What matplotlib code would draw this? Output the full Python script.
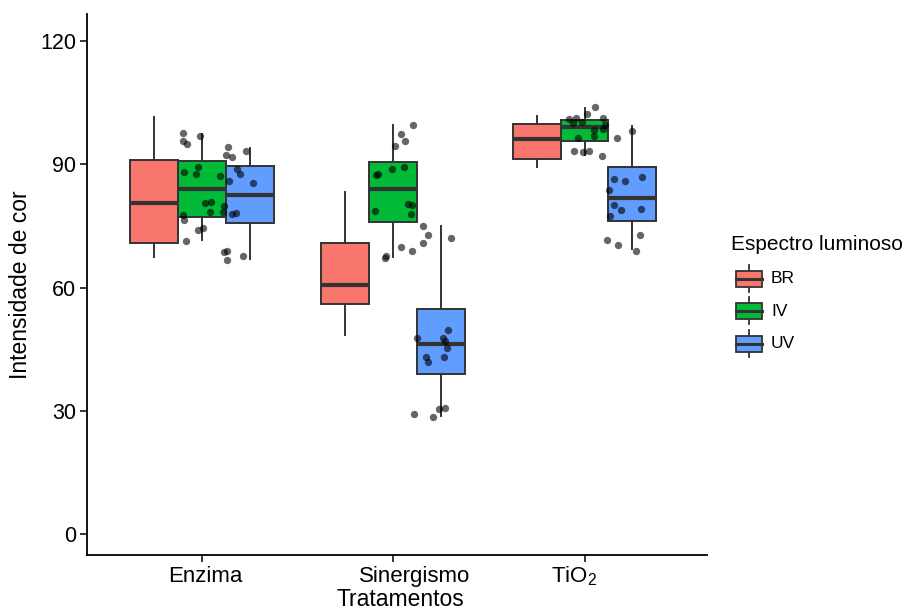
import matplotlib
matplotlib.use("Agg")
import matplotlib.pyplot as plt
import matplotlib.transforms as mtransforms
from matplotlib.patches import Rectangle
import numpy as np

plt.rcParams['font.family'] = ['Liberation Sans', 'DejaVu Sans']
plt.rcParams['mathtext.fontset'] = 'custom'
plt.rcParams['mathtext.rm'] = 'Liberation Sans'
plt.rcParams['mathtext.it'] = 'Liberation Sans:italic'

# ---------------- data ----------------
groups = ['Enzima', 'Sinergismo', 'TiO$_{2}$']
spectra = ['BR', 'IV', 'UV']
colors = ['#F8766D', '#00BA38', '#619CFF']

# box statistics per group, order BR, IV, UV
whislo = {'Enzima': [67.4, 71.6, 66.9], 'Sinergismo': [48.4, 67.5, 28.7], 'TiO2': [89.3, 92.3, 69.3]}
q1     = {'Enzima': [70.8, 77.3, 75.7], 'Sinergismo': [56.0, 75.9, 38.9], 'TiO2': [91.2, 95.6, 76.3]}
med    = {'Enzima': [80.6, 84.0, 82.5], 'Sinergismo': [60.6, 83.9, 46.3], 'TiO2': [96.2, 99.1, 81.9]}
q3     = {'Enzima': [91.0, 90.8, 89.6], 'Sinergismo': [70.8, 90.6, 54.9], 'TiO2': [99.8, 100.9, 89.3]}
whishi = {'Enzima': [101.5, 97.3, 94.0], 'Sinergismo': [83.3, 99.6, 75.0], 'TiO2': [101.8, 103.6, 99.3]}

# jittered observations: values and horizontal jitter (x-units from group centre)
enz_val = [97.6, 97.0, 95.7, 95.0, 94.3, 93.3, 92.2, 91.9, 89.3, 88.2, 87.7, 87.2, 88.9, 87.6, 86.0, 85.4,
           80.5, 80.9, 78.3, 79.8, 78.4, 78.0, 78.1, 77.7, 76.4, 74.1, 74.5, 71.4, 68.6, 69.0, 66.7, 67.8]
enz_jit = [-0.098, -0.010, -0.099, -0.075, 0.137, 0.233, 0.127, 0.157, -0.021, -0.094, -0.033, 0.096, 0.183,
           0.197, 0.143, 0.270, 0.016, 0.047, 0.042, 0.116, 0.110, 0.158, 0.178, -0.096, -0.092, -0.019, 0.004,
           -0.082, 0.116, 0.129, 0.129, 0.216]
sin_val = [99.6, 97.4, 95.8, 94.5, 89.4, 88.8, 87.6, 87.3, 80.4, 80.1, 78.7, 78.0, 75.1, 72.7, 72.1, 70.8,
           69.8, 68.9, 67.8, 67.3, 49.7, 47.8, 47.8, 47.0, 45.4, 43.0, 41.8, 43.2, 29.2, 28.5, 30.4, 30.7]
sin_jit = [0.103, 0.040, 0.061, 0.012, 0.059, -0.005, -0.077, -0.092, 0.077, 0.099, -0.096, 0.094, 0.157,
           0.183, 0.301, 0.157, 0.040, 0.099, -0.037, -0.045, 0.289, 0.125, 0.261, 0.270, 0.282, 0.171, 0.183,
           0.268, 0.111, 0.210, 0.237, 0.271]
tio_val = [103.9, 102.3, 101.0, 101.4, 100.0, 100.3, 101.4, 99.7, 98.5, 98.3, 96.9, 96.5, 96.3, 98.0, 93.2,
           93.0, 93.2, 92.0, 87.0, 86.4, 86.0, 83.8, 80.0, 79.0, 79.1, 77.4, 71.6, 72.9, 70.3, 68.8]
tio_jit = [0.057, 0.014, -0.080, -0.043, -0.059, -0.014, 0.098, 0.106, 0.098, 0.049, 0.047, -0.035, 0.172,
           0.249, -0.054, -0.010, 0.025, 0.092, 0.298, 0.153, 0.213, 0.129, 0.153, 0.188, 0.294, 0.131, 0.115,
           0.291, 0.174, 0.271]

yticks = [0, 30, 60, 90, 120]

# ---------------- figure ----------------
W, H, DPI = 908, 612, 100
fig = plt.figure(figsize=(W / DPI, H / DPI), dpi=DPI)
ax = fig.add_axes([87 / W, 1 - 555 / H, (707 - 87) / W, (555 - 14) / H])

edge = '#333333'
keys = ['Enzima', 'Sinergismo', 'TiO2']
offsets = [-0.25, 0.0, 0.25]
for gi, g in enumerate(keys):
    stats = []
    for si in range(3):
        stats.append(dict(med=med[g][si], q1=q1[g][si], q3=q3[g][si],
                          whislo=whislo[g][si], whishi=whishi[g][si], fliers=[]))
    pos = [gi + 1 + o for o in offsets]
    bp = ax.bxp(stats, positions=pos, widths=0.25, patch_artist=True, showcaps=False,
                boxprops=dict(edgecolor=edge, linewidth=1.4),
                medianprops=dict(color=edge, linewidth=3.0, solid_capstyle='butt'),
                whiskerprops=dict(color=edge, linewidth=1.4), manage_ticks=False)
    for patch, c in zip(bp['boxes'], colors):
        patch.set_facecolor(c)

for gi, (vals, jit) in enumerate([(enz_val, enz_jit), (sin_val, sin_jit), (tio_val, tio_jit)]):
    xs = np.array(jit) + gi + 1
    ax.scatter(xs, vals, s=28, color='black', alpha=0.6, linewidths=0, zorder=5)

ax.set_xlim(0.4, 3.64)
ax.set_ylim(-5.1, 126.6)
ax.set_yticks(yticks)
ax.set_yticklabels([str(v) for v in yticks])
ax.set_xticks([1, 2, 3])
ax.set_xticklabels([])

# x tick labels: left-aligned a little left of each tick, as in the reference
lab_tr = mtransforms.blended_transform_factory(ax.transData, fig.transFigure) + \
    mtransforms.ScaledTranslation(-34 / DPI, 0, fig.dpi_scale_trans)
for i, g in enumerate(groups):
    ax.text(i + 1, 1 - 582 / H, g, transform=lab_tr, ha='left', va='baseline', fontsize=16)

for s in ['top', 'right']:
    ax.spines[s].set_visible(False)
for s in ['left', 'bottom']:
    ax.spines[s].set_linewidth(1.3)
    ax.spines[s].set_color('black')
ax.tick_params(axis='both', length=5, width=1.1, colors='black', labelsize=15.5, pad=3)
ax.set_ylabel('Intensidade de cor', fontsize=16.5, labelpad=6)
fig.text(400 / W, 1 - 606 / H, 'Tratamentos', fontsize=16.5, ha='center', va='baseline')

# ---------------- legend ----------------
lax = fig.add_axes([720 / W, 1 - 365 / H, 188 / W, 140 / H])
lax.set_xlim(720, 908)
lax.set_ylim(365, 225)
lax.axis('off')
lax.text(731, 245, 'Espectro luminoso', fontsize=15, va='center', ha='left')
for i, (lab, c) in enumerate(zip(spectra, colors)):
    cy = 278.5 + i * 32.5
    lax.plot([748.5, 748.5], [cy - 14, cy + 13], color=edge, lw=1.3)
    lax.add_patch(Rectangle((736, cy - 8), 25.5, 16, facecolor=c, edgecolor=edge, lw=1.3, zorder=3))
    lax.plot([736, 761.5], [cy, cy], color=edge, lw=2.2, zorder=4)
    lax.text(771, cy, lab, fontsize=12.5, va='center', ha='left')

fig.savefig('out.png', dpi=DPI)
